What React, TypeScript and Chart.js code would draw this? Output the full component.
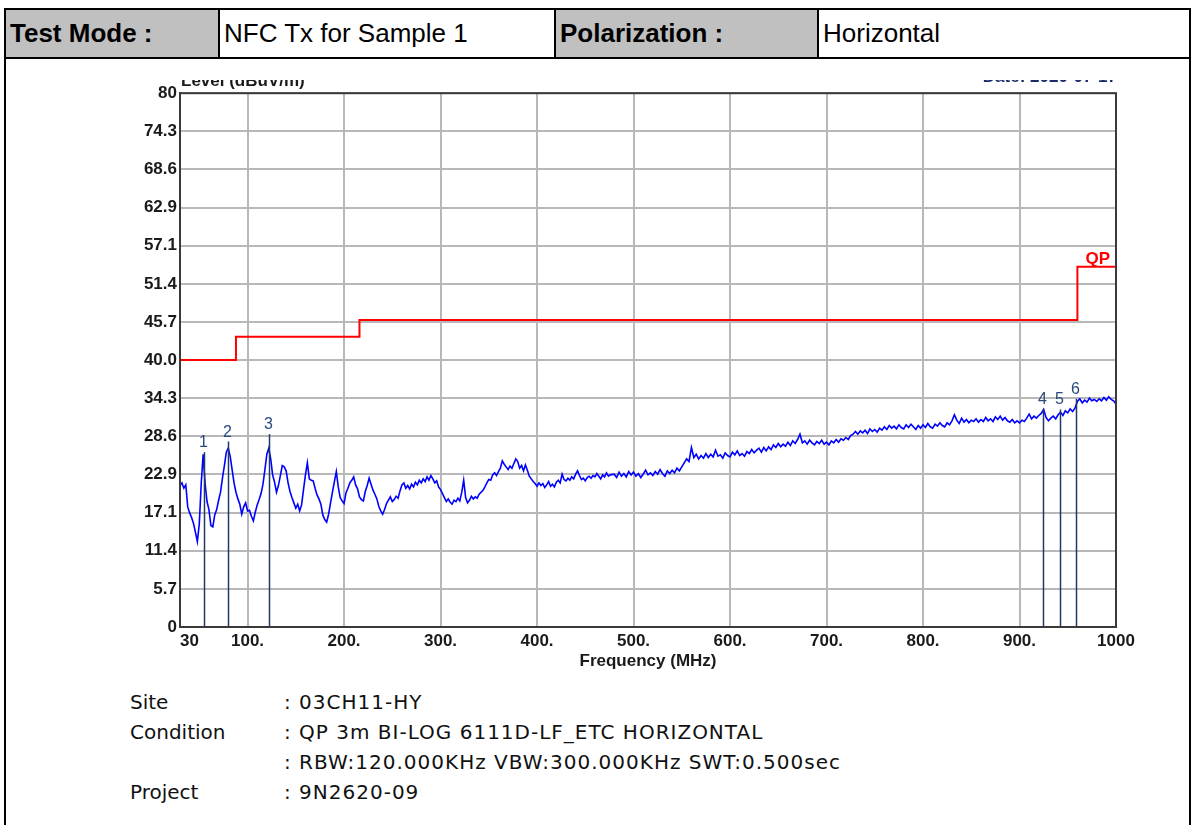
import React, { useEffect, useRef } from "react";
import { Chart, registerables } from "chart.js";

Chart.register(...registerables);

const headerLabels = ["Test Mode :", "Polarization :"];
const headerValues = ["NFC Tx for Sample 1", "Horizontal"];

const yAxisTitle = "Level (dBuV/m)";
const dateText = "Date: 2020-07-17";
const xAxisTitle = "Frequency (MHz)";

const xTickValues = [30, 100, 200, 300, 400, 500, 600, 700, 800, 900, 1000];
const xTickLabels = ["30", "100.", "200.", "300.", "400.", "500.", "600.", "700.", "800.", "900.", "1000"];
const yTickValues = [0, 5.714, 11.429, 17.143, 22.857, 28.571, 34.286, 40, 45.714, 51.429, 57.143, 62.857, 68.571, 74.286, 80];
const yTickLabels = ["0", "5.7", "11.4", "17.1", "22.9", "28.6", "34.3", "40.0", "45.7", "51.4", "57.1", "62.9", "68.6", "74.3", "80"];

// QP limit (step line)
const limitLabel = "QP";
const limitFreqs = [30, 88, 216, 960, 1000];
const limitLevels = [40, 43.5, 46, 54, 54];

// markers
const markerLabels = ["1", "2", "3", "4", "5", "6"];
const markerFreqs = [54.9, 79.7, 122.2, 924.3, 942.0, 958.5];
const markerLevels = [26.2, 27.8, 28.9, 32.7, 32.6, 34.2];

// measured trace, segment 1: 30..170 MHz every 2 MHz
const lowStart = 30;
const lowStep = 2;
const lowLevels = [
  21.2, 21.6, 20.8, 21.3, 18.0, 17.1, 16.4, 15.5, 14.2, 12.8,
  15.5, 21.5, 25.9, 21.5, 18.8, 17.6, 15.2, 15.0, 16.8, 17.6,
  19.0, 20.2, 22.3, 24.2, 26.2, 26.8, 25.6, 23.6, 21.6, 20.2,
  19.2, 18.4, 16.9, 18.0, 18.6, 17.4, 17.5, 16.6, 15.9, 17.2,
  18.3, 19.1, 20.0, 21.4, 23.6, 25.9, 26.8, 25.2, 22.8, 21.7,
  20.2, 21.2, 22.7, 24.2, 24.0, 23.4, 21.6, 20.3, 19.4, 18.6,
  17.8, 18.4, 17.4, 18.3, 20.6, 22.8, 24.6, 22.2, 22.0, 21.9,
  20.8,
];
// segment 2: 172..476 MHz every 2 MHz
const midStart = 172;
const midStep = 2;
const midLevels = [
  19.8, 19.2, 18.4, 16.8, 16.1, 15.7, 16.9, 18.6, 20.2, 21.8,
  23.3, 21.0, 19.4, 18.9, 18.5, 20.1, 20.8, 21.6, 22.0, 22.5,
  21.3, 20.7, 19.5, 19.1, 18.9, 20.3, 21.2, 22.3, 21.4, 20.5,
  19.9, 19.2, 18.1, 17.4, 16.9, 17.6, 18.5, 19.0, 19.5, 18.8,
  19.1, 19.6, 19.3, 20.4, 21.3, 21.6, 20.8, 21.2, 20.7, 21.4,
  21.0, 21.7, 21.3, 22.0, 21.6, 22.2, 21.8, 22.5, 22.0, 22.7,
  22.2, 21.6, 21.9, 21.0, 20.6, 20.0, 19.4, 18.8, 19.2, 18.7,
  18.4, 19.0, 18.8, 19.3, 18.9, 20.2, 22.0, 19.4, 18.6, 19.0,
  19.6, 19.2, 19.5, 19.3, 19.9, 20.2, 20.5, 21.0, 21.6, 22.1,
  22.0, 22.8, 23.1, 22.7, 23.3, 23.8, 24.9, 24.4, 24.0, 23.6,
  24.1, 23.8, 24.5, 25.2, 24.8, 23.8, 24.2, 23.4, 24.3, 23.5,
  22.6, 22.2, 21.8, 21.5, 21.1, 21.6, 21.2, 21.5, 20.9, 21.3,
  21.8, 21.1, 21.4, 21.0, 21.7, 22.0, 21.6, 22.9, 22.1, 21.9,
  22.3, 22.0, 22.5, 22.2, 22.9, 23.4, 22.7, 22.1, 22.3, 21.9,
  22.4, 22.6, 22.3, 22.7, 22.5, 23.0, 22.6, 22.2, 22.8, 22.5,
  23.1, 22.6, 22.8,
];
// segment 3: 480..1000 MHz every 2.5 MHz
const highStart = 480;
const highStep = 2.5;
const highLevels = [
  22.9, 22.4, 23.2, 22.6, 23.0, 22.5, 23.3, 22.8,
  23.2, 22.6, 23.0, 22.4, 22.9, 23.5, 22.8, 23.1,
  22.7, 23.3, 22.9, 23.6, 23.0, 22.6, 23.4, 23.0,
  23.5, 23.1, 23.8, 23.4, 24.0, 24.6, 25.2, 24.8,
  26.9, 25.4, 25.9, 25.2, 25.7, 25.3, 26.0, 25.4,
  25.9, 25.5, 26.5, 25.6, 25.8, 25.3, 26.1, 25.7,
  25.5, 26.2, 25.8, 26.4, 25.7, 26.0, 25.6, 26.3,
  26.0, 26.6, 26.1, 26.5, 26.8, 26.2, 26.9, 26.4,
  27.0, 26.6, 27.3, 26.9, 27.5, 27.0, 27.4, 27.1,
  27.7, 27.2, 27.9, 27.5, 28.1, 28.9, 27.6, 27.9,
  27.4, 28.0, 27.6, 27.3, 27.8, 27.5, 28.0, 27.4,
  27.7, 27.3, 27.9, 27.6, 28.1, 27.7, 28.2, 28.0,
  28.4, 28.1, 28.7, 28.9, 29.3, 28.9, 29.4, 29.1,
  29.5, 29.0, 29.7, 29.3, 29.6, 29.2, 29.8, 29.5,
  30.0, 29.6, 30.2, 29.8, 30.1, 29.7, 30.3, 29.9,
  29.7, 30.3, 29.9, 30.4, 30.0, 29.6, 30.2, 29.8,
  30.3, 29.9, 30.5, 30.0, 29.8, 30.4, 30.1, 30.6,
  30.2, 30.0, 30.6, 30.3, 30.9, 31.8, 31.0, 30.5,
  31.3, 30.7, 31.1, 30.6, 31.0, 30.8, 31.2, 30.7,
  31.1, 30.8, 31.4, 30.9, 31.2, 30.8, 31.5, 31.1,
  31.6, 31.0, 31.4, 30.9, 30.7, 31.1, 30.6, 30.9,
  30.6, 31.0, 30.8, 31.3, 31.9, 31.2, 31.6, 31.3,
  31.7, 32.0, 32.6, 31.4, 30.9, 31.3, 31.6, 31.2,
  31.8, 32.2, 31.7, 32.4, 32.1, 32.7, 32.3, 32.8,
  33.8, 34.2, 33.6, 34.0, 33.7, 34.3, 33.9, 34.1,
  33.8, 34.2, 33.9, 34.4, 34.0, 34.5, 34.1, 33.9,
  33.4,
];

const footerLabels = ["Site", "Condition", "", "Project"];
const footerValues = [
  ": 03CH11-HY",
  ": QP 3m BI-LOG 6111D-LF_ETC HORIZONTAL",
  ": RBW:120.000KHz VBW:300.000KHz SWT:0.500sec",
  ": 9N2620-09",
];

const FONT = "Arial, 'Liberation Sans', sans-serif";

function seg(start: number, step: number, levels: number[]) {
  return levels.map((v, i) => ({ x: start + i * step, y: v }));
}

export default function App() {
  const canvasRef = useRef<HTMLCanvasElement | null>(null);

  useEffect(() => {
    const canvas = canvasRef.current;
    if (!canvas) return;
    const tracePoints = [
      ...seg(lowStart, lowStep, lowLevels),
      ...seg(midStart, midStep, midLevels),
      ...seg(highStart, highStep, highLevels),
    ];
    const limitPoints = limitFreqs.map((f, i) => ({ x: f, y: limitLevels[i] }));

    const overlay = {
      id: "overlay",
      afterDatasetsDraw(chart: any) {
        const { ctx, chartArea, scales } = chart;
        const xs = scales.x;
        const ys = scales.y;
        ctx.save();
        // markers
        markerFreqs.forEach((f, i) => {
          const px = Math.round(xs.getPixelForValue(f)) + 0.5;
          const py = ys.getPixelForValue(markerLevels[i]);
          const p0 = ys.getPixelForValue(0);
          ctx.strokeStyle = "#1d3966";
          ctx.lineWidth = 1.5;
          ctx.beginPath();
          ctx.moveTo(px, p0);
          ctx.lineTo(px, py);
          ctx.stroke();
          ctx.fillStyle = "#2a4a7c";
          ctx.font = `16px ${FONT}`;
          ctx.textAlign = "center";
          ctx.textBaseline = "alphabetic";
          ctx.fillText(markerLabels[i], px - 1, py - 5);
        });
        // plot frame
        ctx.strokeStyle = "#3a3a3a";
        ctx.lineWidth = 2;
        ctx.strokeRect(chartArea.left, chartArea.top, chartArea.right - chartArea.left, chartArea.bottom - chartArea.top);
        // QP label
        ctx.fillStyle = "#ff0000";
        ctx.font = `bold 17px ${FONT}`;
        ctx.textAlign = "right";
        ctx.textBaseline = "alphabetic";
        ctx.fillText(limitLabel, chartArea.right - 6, ys.getPixelForValue(limitLevels[limitLevels.length - 1]) - 3);
        // axis title (top left, clipped by the image top) and date
        ctx.fillStyle = "#1a1a1a";
        ctx.textAlign = "left";
        ctx.fillText(yAxisTitle, chartArea.left + 1, 6);
        ctx.fillStyle = "#1a2a6a";
        ctx.textAlign = "right";
        ctx.fillText(dateText, chartArea.right + 1, 2);
        ctx.restore();
      },
    };

    const chart = new Chart(canvas, {
      type: "line",
      data: {
        datasets: [
          {
            label: "Trace",
            data: tracePoints,
            borderColor: "#0000ff",
            borderWidth: 1.6,
            pointRadius: 0,
            tension: 0,
          },
          {
            label: limitLabel,
            data: limitPoints,
            borderColor: "#ff0000",
            borderWidth: 2,
            pointRadius: 0,
            stepped: true,
          },
        ],
      },
      options: {
        animation: false,
        responsive: false,
        maintainAspectRatio: false,
        events: [],
        layout: { padding: { left: 0, top: 11, right: 44, bottom: 0 } },
        plugins: { legend: { display: false }, tooltip: { enabled: false } },
        scales: {
          x: {
            type: "linear",
            min: 30,
            max: 1000,
            afterBuildTicks: (s: any) => {
              s.ticks = xTickValues.map((v) => ({ value: v }));
            },
            afterFit: (s: any) => {
              s.height = 61;
            },
            ticks: {
              autoSkip: false,
              maxRotation: 0,
              padding: 4,
              color: "#1a1a1a",
              font: { family: FONT, size: 17, weight: "bold" },
              callback: (_v: any, i: number) => (i === 0 ? "    " + xTickLabels[i] : xTickLabels[i]),
            },
            grid: { color: "#b8b8b8", lineWidth: 2, drawTicks: false },
            border: { display: true, color: "#3a3a3a", width: 2 },
            title: {
              display: true,
              text: xAxisTitle,
              color: "#1a1a1a",
              font: { family: FONT, size: 17, weight: "bold" },
              padding: { top: 0, bottom: 16 },
            },
          },
          y: {
            type: "linear",
            min: 0,
            max: 80,
            afterBuildTicks: (s: any) => {
              s.ticks = yTickValues.map((v) => ({ value: v }));
            },
            afterFit: (s: any) => {
              s.width = 80;
            },
            ticks: {
              autoSkip: false,
              padding: 3,
              color: "#1a1a1a",
              font: { family: FONT, size: 17, weight: "bold" },
              callback: (_v: any, i: number) => yTickLabels[i],
            },
            grid: { color: "#b8b8b8", lineWidth: 2, drawTicks: false },
            border: { display: true, color: "#3a3a3a", width: 2 },
          },
        },
      },
      plugins: [overlay],
    });
    return () => chart.destroy();
  }, []);

  const cellBase: React.CSSProperties = {
    position: "absolute",
    top: 0,
    height: "100%",
    display: "flex",
    alignItems: "center",
    paddingLeft: 4,
    boxSizing: "border-box",
    fontSize: 26,
    color: "#000",
    whiteSpace: "nowrap",
    overflow: "hidden",
  };

  const footerText: React.CSSProperties = {
    position: "absolute",
    height: 24,
    lineHeight: "24px",
    fontSize: 20,
    fontFamily: "'DejaVu Sans', sans-serif",
    color: "#111",
    whiteSpace: "nowrap",
  };

  return (
    <div
      style={{
        position: "absolute",
        left: 0,
        top: 0,
        width: 1195,
        height: 825,
        background: "#fff",
        overflow: "hidden",
        fontFamily: FONT,
      }}
    >
      {/* header row */}
      <div
        style={{
          position: "absolute",
          left: 4,
          top: 8,
          width: 1187,
          height: 51,
          border: "2px solid #000",
          boxSizing: "border-box",
        }}
      >
        <div style={{ ...cellBase, left: 0, width: 212, background: "#c0c0c0", fontWeight: "bold" }}>{headerLabels[0]}</div>
        <div style={{ ...cellBase, left: 212, width: 336, borderLeft: "2px solid #000" }}>{headerValues[0]}</div>
        <div style={{ ...cellBase, left: 548, width: 263, background: "#c0c0c0", borderLeft: "2px solid #000", fontWeight: "bold" }}>{headerLabels[1]}</div>
        <div style={{ ...cellBase, left: 811, width: 372, borderLeft: "2px solid #000" }}>{headerValues[1]}</div>
      </div>
      {/* side borders of the report box */}
      <div style={{ position: "absolute", left: 4, top: 57, width: 2, height: 770, background: "#000" }} />
      <div style={{ position: "absolute", left: 1189, top: 57, width: 2, height: 770, background: "#000" }} />

      <canvas
        ref={canvasRef}
        width={1060}
        height={608}
        style={{ position: "absolute", left: 100, top: 80, width: 1060, height: 608 }}
      />

      {footerLabels.map((lab, i) => (
        <React.Fragment key={i}>
          <div style={{ ...footerText, left: 130, top: 690 + i * 30 }}>{lab}</div>
          <div style={{ ...footerText, left: 284, top: 690 + i * 30, letterSpacing: 1 }}>{footerValues[i]}</div>
        </React.Fragment>
      ))}
    </div>
  );
}
